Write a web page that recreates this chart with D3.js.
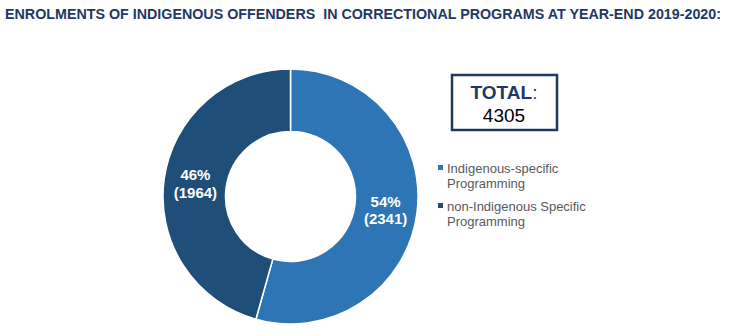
<!DOCTYPE html>
<html>
<head>
<meta charset="utf-8">
<script src="https://cdn.jsdelivr.net/npm/d3@7"></script>
<style>
  body { margin: 0; background: #fff; }
  svg { display: block; font-family: "Liberation Sans", Arial, sans-serif; }
</style>
</head>
<body>
<svg id="chart"></svg>
<script>
const width = 729, height = 335

// data
const categories = ["Indigenous-specific Programming", "non-Indigenous Specific Programming"]
const legend_lines = [["Indigenous-specific", "Programming"], ["non-Indigenous Specific", "Programming"]]
const values = [2341, 1964]
const colors = ["#2E75B6", "#1F4E79"]
const title_text = "ENROLMENTS OF INDIGENOUS OFFENDERS  IN CORRECTIONAL PROGRAMS AT YEAR-END 2019-2020:"

const total = d3.sum(values)

const svg = d3.select("#chart")
    .attr("width", width)
    .attr("height", height)

svg.append("text")
    .attr("x", 5)
    .attr("y", 19)
    .attr("fill", "#1F3864")
    .attr("font-size", "14px")
    .attr("font-weight", "bold")
    .attr("textLength", 716)
    .attr("lengthAdjust", "spacingAndGlyphs")
    .style("white-space", "pre")
    .text(title_text)

// donut
const cx = 290.5, cy = 196.5
const outer_r = 127.5, inner_r = 65

let pie = d3.pie().sort(null).value(d => d)
let arcs = pie(values)
let arc = d3.arc().innerRadius(inner_r).outerRadius(outer_r)

let g = svg.append("g").attr("transform", `translate(${cx},${cy})`)

g.selectAll("path")
    .data(arcs)
    .enter()
    .append("path")
    .attr("d", arc)
    .attr("fill", (d, i) => colors[i])
    .attr("stroke", "#fff")
    .attr("stroke-width", 1.5)

let fmt = d3.format(".0%")
let label_arc = d3.arc().innerRadius(96).outerRadius(96)

let labels = g.selectAll("text.lbl")
    .data(arcs)
    .enter()
    .append("text")
    .attr("class", "lbl")
    .attr("fill", "#fff")
    .attr("font-size", "15px")
    .attr("font-weight", "bold")
    .attr("text-anchor", "middle")
    .attr("transform", d => {
        let c = label_arc.centroid(d)
        return `translate(${c[0]},${c[1]})`
    })

labels.append("tspan")
    .attr("x", 0)
    .attr("dy", "-0.2em")
    .text(d => fmt(d.data / total))
labels.append("tspan")
    .attr("x", 0)
    .attr("dy", "1.15em")
    .text(d => "(" + d.data + ")")

// total box
svg.append("rect")
    .attr("x", 452)
    .attr("y", 75)
    .attr("width", 105)
    .attr("height", 55)
    .attr("fill", "#fff")
    .attr("stroke", "#1F3864")
    .attr("stroke-width", 2.5)

let tt = svg.append("text")
    .attr("x", 504)
    .attr("y", 99)
    .attr("text-anchor", "middle")
    .attr("font-size", "19px")
    .attr("fill", "#1F3864")
tt.append("tspan").attr("font-weight", "bold").text("TOTAL")
tt.append("tspan").text(":")

svg.append("text")
    .attr("x", 504)
    .attr("y", 122)
    .attr("text-anchor", "middle")
    .attr("font-size", "19px")
    .attr("fill", "#000")
    .text(total)

// legend
let legend = svg.append("g")
    .selectAll("g")
    .data(categories)
    .enter()
    .append("g")
    .attr("transform", (d, i) => `translate(438,${168 + i * 38})`)

legend.append("rect")
    .attr("x", 0)
    .attr("y", -3)
    .attr("width", 5)
    .attr("height", 5)
    .attr("fill", (d, i) => colors[i])

legend.append("text")
    .attr("x", 9)
    .attr("y", 4.5)
    .attr("font-size", "13px")
    .attr("fill", "#595959")
    .selectAll("tspan")
    .data((d, i) => legend_lines[i])
    .enter()
    .append("tspan")
    .attr("x", 9)
    .attr("dy", (d, j) => j == 0 ? 0 : 15)
    .text(d => d)
</script>
</body>
</html>
